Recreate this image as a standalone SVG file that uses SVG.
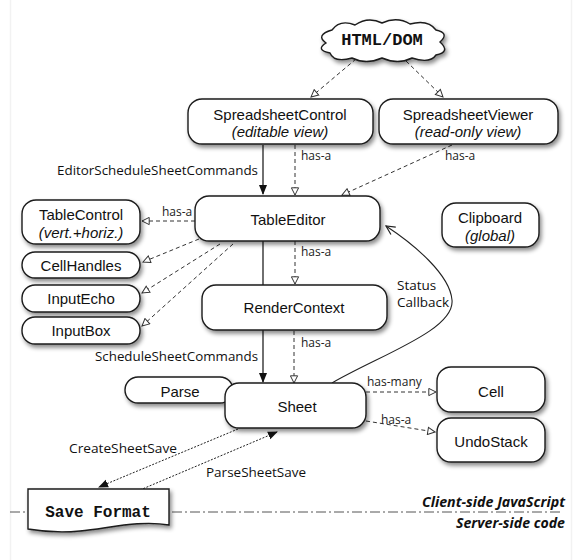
<svg xmlns="http://www.w3.org/2000/svg" width="579" height="560" viewBox="0 0 579 560">
<defs>
<style>
.box{fill:#fff;stroke:#1a1a1a;stroke-width:1.4;filter:url(#sh)}
.t{font-family:"Liberation Sans",Arial,sans-serif;font-size:15px;fill:#111;text-anchor:middle}
.ti{font-family:"Liberation Sans",Arial,sans-serif;font-size:15px;font-style:italic;fill:#111;text-anchor:middle}
.lbl{font-family:"Open Sans","DejaVu Sans",sans-serif;font-size:13.5px;fill:#111}
.ha{font-family:"Open Sans","DejaVu Sans",sans-serif;font-size:12px;fill:#222}
.mono{font-family:"Liberation Mono","DejaVu Sans Mono",monospace;font-weight:bold;fill:#111;text-anchor:middle}
.side{font-family:"Open Sans","DejaVu Sans",sans-serif;font-weight:bold;font-style:italic;font-size:14.5px;fill:#111;text-anchor:end}
.dash{fill:none;stroke:#333;stroke-width:1;stroke-dasharray:4,3;marker-end:url(#open)}
.solid{fill:none;stroke:#222;stroke-width:1.3}
.dot{fill:none;stroke:#222;stroke-width:1;stroke-dasharray:2,1.5;marker-end:url(#fill)}
</style>
<filter id="sh" x="-20%" y="-20%" width="150%" height="170%">
<feDropShadow dx="2" dy="3" stdDeviation="2" flood-color="#000" flood-opacity="0.45"/>
</filter>
<marker id="open" viewBox="0 0 10 10" refX="9" refY="5" markerWidth="9" markerHeight="9" markerUnits="userSpaceOnUse" orient="auto">
<path d="M1,1 L9,5 L1,9 Z" fill="#fff" stroke="#333" stroke-width="1.1"/>
</marker>
<marker id="fill" viewBox="0 0 10 10" refX="9" refY="5" markerWidth="10" markerHeight="10" markerUnits="userSpaceOnUse" orient="auto">
<path d="M0,1 L10,5 L0,9 Z" fill="#111"/>
</marker>
<marker id="vee" viewBox="0 0 10 10" refX="9" refY="5" markerWidth="11" markerHeight="11" markerUnits="userSpaceOnUse" orient="auto">
<path d="M1,1 L9,5 L1,9" fill="none" stroke="#222" stroke-width="1.1"/>
</marker>
</defs>
<rect width="579" height="560" fill="#fff"/>
<line x1="10.5" y1="0" x2="10.5" y2="560" stroke="#f2f2f2" stroke-width="1.5"/>
<line x1="571.5" y1="0" x2="571.5" y2="560" stroke="#f2f2f2" stroke-width="1.5"/>

<g id="connectors">
<line x1="10" y1="512" x2="562" y2="512" stroke="#555" stroke-width="1" stroke-dasharray="10,3,2,3"/>
<path class="dash" d="M356,59 L311,97"/>
<path class="dash" d="M406,61 L443,97"/>
<path class="solid" d="M263,145 L263,194" marker-end="url(#fill)"/>
<path class="dash" d="M295,145 L295,195"/>
<text class="ha" x="301" y="160">has-a</text>
<path class="dash" d="M452,145 L342,195"/>
<text class="ha" x="445" y="160">has-a</text>
<text class="lbl" x="258" y="175" text-anchor="end" textLength="201" lengthAdjust="spacingAndGlyphs">EditorScheduleSheetCommands</text>
<path class="dash" d="M195,221 L142,221"/>
<text class="ha" x="162" y="216">has-a</text>
<path class="dash" d="M199,239 L143,262"/>
<path class="dash" d="M220,244 L142,293"/>
<path class="dash" d="M233,244 L142,326"/>
<path class="solid" d="M263,241 L263,285"/>
<path class="dash" d="M295,241 L295,284"/>
<text class="ha" x="301" y="256">has-a</text>
<path class="solid" d="M263,330 L263,382" marker-end="url(#fill)"/>
<path class="dash" d="M294,331 L294,383"/>
<text class="ha" x="301" y="347">has-a</text>
<text class="lbl" x="258" y="361" text-anchor="end" textLength="163" lengthAdjust="spacingAndGlyphs">ScheduleSheetCommands</text>
<path d="M332,383 C380,355 455,330 452,300 C450,275 415,245 386,226" fill="none" stroke="#222" stroke-width="1.1" marker-end="url(#vee)"/>
<text class="lbl" x="397" y="290" font-size="14.5">Status</text>
<text class="lbl" x="397" y="307" font-size="14.5">Callback</text>
<path class="dash" d="M366,392 L436,392"/>
<text class="ha" x="367" y="386">has-many</text>
<path class="dash" d="M366,421 L435,432"/>
<text class="ha" x="381" y="424">has-a</text>
<path class="dot" d="M238,429 L99,487"/>
<path class="dot" d="M140,490 L277,432"/>
<text class="lbl" x="69" y="453" textLength="108" lengthAdjust="spacingAndGlyphs">CreateSheetSave</text>
<text class="lbl" x="206" y="477" textLength="100" lengthAdjust="spacingAndGlyphs">ParseSheetSave</text>
<text class="side" x="565" y="507" textLength="143" lengthAdjust="spacingAndGlyphs">Client-side JavaScript</text>
<text class="side" x="565" y="528" textLength="109" lengthAdjust="spacingAndGlyphs">Server-side code</text>
</g>

<g id="htmldom">
<path class="box" d="M332,30 Q340,19 355,25 Q368,16 382,23 Q397,16 410,24 Q428,19 436,30 Q450,33 440,42 Q451,52 436,55 Q430,64 412,58 Q398,65 382,58 Q366,65 352,58 Q334,63 330,53 Q315,50 326,43 Q315,35 332,30 Z"/>
<text class="mono" x="382" y="45" font-size="17">HTML/DOM</text>
</g>
<g id="spreadsheetcontrol">
<rect class="box" x="188" y="99" width="185" height="45" rx="14"/>
<text class="t" x="280" y="120">SpreadsheetControl</text>
<text class="ti" x="280" y="137" font-size="14">(editable view)</text>
</g>
<g id="spreadsheetviewer">
<rect class="box" x="379" y="99" width="179" height="45" rx="14"/>
<text class="t" x="468" y="120">SpreadsheetViewer</text>
<text class="ti" x="468" y="137" font-size="14">(read-only view)</text>
</g>
<g id="tableeditor">
<rect class="box" x="195" y="196" width="185" height="45" rx="14"/>
<text class="t" x="288" y="225">TableEditor</text>
</g>
<g id="tablecontrol">
<rect class="box" x="22" y="200" width="118" height="44" rx="14"/>
<text class="t" x="81" y="220">TableControl</text>
<text class="ti" x="81" y="238" font-size="14">(vert.+horiz.)</text>
</g>
<g id="cellhandles">
<rect class="box" x="22" y="252" width="118" height="26" rx="13"/>
<text class="t" x="81" y="271">CellHandles</text>
</g>
<g id="inputecho">
<rect class="box" x="22" y="285" width="118" height="27" rx="13"/>
<text class="t" x="81" y="304">InputEcho</text>
</g>
<g id="inputbox">
<rect class="box" x="22" y="317" width="118" height="27" rx="13"/>
<text class="t" x="81" y="336">InputBox</text>
</g>
<g id="clipboard">
<rect class="box" x="442" y="203" width="97" height="44" rx="14"/>
<text class="t" x="490" y="223">Clipboard</text>
<text class="ti" x="490" y="241" font-size="14">(global)</text>
</g>
<g id="rendercontext">
<rect class="box" x="202" y="285" width="185" height="45" rx="14"/>
<text class="t" x="294" y="313">RenderContext</text>
</g>
<g id="parse">
<rect class="box" x="125" y="377" width="108" height="26" rx="13"/>
<text class="t" x="180" y="397">Parse</text>
</g>
<g id="sheet">
<rect class="box" x="225" y="383" width="141" height="45" rx="14"/>
<text class="t" x="297" y="412" font-size="16">Sheet</text>
</g>
<g id="cell">
<rect class="box" x="437" y="367" width="108" height="45" rx="14"/>
<text class="t" x="491" y="397">Cell</text>
</g>
<g id="undostack">
<rect class="box" x="437" y="418" width="108" height="44" rx="14"/>
<text class="t" x="491" y="447">UndoStack</text>
</g>
<g id="saveformat">
<path class="box" d="M28,489 L169,489 L169,525 C140,520 110,528 80,531 C60,533 40,531 28,529 Z"/>
<text class="mono" x="98" y="517" font-size="16">Save Format</text>
</g>
</svg>
